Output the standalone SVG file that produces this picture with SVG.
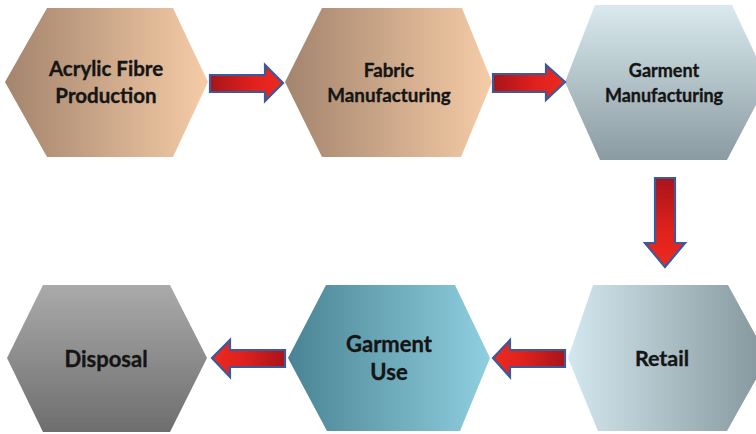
<svg xmlns="http://www.w3.org/2000/svg" width="756" height="434" viewBox="0 0 756 434">
<defs>
<linearGradient id="gPeach" x1="0" y1="0" x2="1" y2="0"><stop offset="0" stop-color="#a3846d"/><stop offset="1" stop-color="#f6cca7"/></linearGradient>
<linearGradient id="gGreyBlueV" x1="0" y1="0" x2="0" y2="1"><stop offset="0" stop-color="#d9e9ee"/><stop offset="1" stop-color="#8a9ba1"/></linearGradient>
<linearGradient id="gGreyBlueH" x1="0" y1="0" x2="1" y2="0"><stop offset="0" stop-color="#d3e7ee"/><stop offset="1" stop-color="#84969c"/></linearGradient>
<linearGradient id="gTeal" x1="0" y1="0" x2="1" y2="0"><stop offset="0" stop-color="#4a8494"/><stop offset="1" stop-color="#8fcfdf"/></linearGradient>
<linearGradient id="gGrey" x1="0" y1="0" x2="0" y2="1"><stop offset="0" stop-color="#aaaaaa"/><stop offset="1" stop-color="#6e6e6e"/></linearGradient>
<linearGradient id="aR" x1="0" y1="0" x2="1" y2="0"><stop offset="0" stop-color="#a8141a"/><stop offset="0.6" stop-color="#e0221d"/><stop offset="1" stop-color="#ec2a20"/></linearGradient>
<linearGradient id="aL" x1="1" y1="0" x2="0" y2="0"><stop offset="0" stop-color="#a8141a"/><stop offset="0.6" stop-color="#e0221d"/><stop offset="1" stop-color="#ec2a20"/></linearGradient>
<linearGradient id="aD" x1="0" y1="0" x2="0" y2="1"><stop offset="0" stop-color="#a8141a"/><stop offset="0.6" stop-color="#e0221d"/><stop offset="1" stop-color="#ec2a20"/></linearGradient>
<style>
.lbl{font-family:Lato,"Open Sans","Liberation Sans",sans-serif;font-weight:bold;fill:#151515;stroke:#151515;stroke-width:0.35;text-anchor:middle;}
.arrow{stroke:#3a5a9c;stroke-width:2.2;stroke-linejoin:miter;}
</style>
</defs>
<rect width="756" height="434" fill="#ffffff"/>
<g id="node-acrylic">
<path d="M47,8 L173,8 L208,82 L173,157 L47,157 L5,82 Z" fill="url(#gPeach)"/>
<text class="lbl" x="106" y="76" font-size="20.5">Acrylic Fibre</text>
<text class="lbl" x="106" y="103" font-size="20.5">Production</text>
</g>
<g id="node-fabric">
<path d="M322,8 L462,8 L492,82 L461,157 L322,157 L285,82 Z" fill="url(#gPeach)"/>
<text class="lbl" x="389" y="77" font-size="18.8">Fabric</text>
<text class="lbl" x="389" y="102" font-size="18.8">Manufacturing</text>
</g>
<g id="node-garment-mfg">
<path d="M595,5 L732,5 L768,82 L727,160 L600,160 L565,82 Z" fill="url(#gGreyBlueV)"/>
<text class="lbl" x="664" y="77" font-size="18">Garment</text>
<text class="lbl" x="664" y="102" font-size="18">Manufacturing</text>
</g>
<g id="node-retail">
<path d="M593,285 L728,285 L768,358 L727,431 L598,431 L568,358 Z" fill="url(#gGreyBlueH)"/>
<text class="lbl" x="662" y="366" font-size="21.5">Retail</text>
</g>
<g id="node-garment-use">
<path d="M326,285 L455,285 L490,358 L460,431 L327,431 L288,358 Z" fill="url(#gTeal)"/>
<text class="lbl" x="389" y="352" font-size="22">Garment</text>
<text class="lbl" x="389" y="380" font-size="22">Use</text>
</g>
<g id="node-disposal">
<path d="M43,285 L170,285 L207,358 L170,432 L43,432 L7,358 Z" fill="url(#gGrey)"/>
<text class="lbl" x="106" y="367" font-size="22">Disposal</text>
</g>
<g id="connectors">
<path class="arrow" fill="url(#aR)" d="M210,75 H265 V65 L283,83 L265,101 V92 H210 Z"/>
<path class="arrow" fill="url(#aR)" d="M493,74 H546 V65 L565,82 L546,100 V92 H493 Z"/>
<path class="arrow" fill="url(#aD)" d="M655,178 V243 H645 L665,267 L685,243 H675 V178 Z"/>
<path class="arrow" fill="url(#aL)" d="M565,350 H510 V340 L493,358 L510,377 V367 H565 Z"/>
<path class="arrow" fill="url(#aL)" d="M285,350 H230 V340 L212,358 L230,377 V367 H285 Z"/>
</g>
</svg>
